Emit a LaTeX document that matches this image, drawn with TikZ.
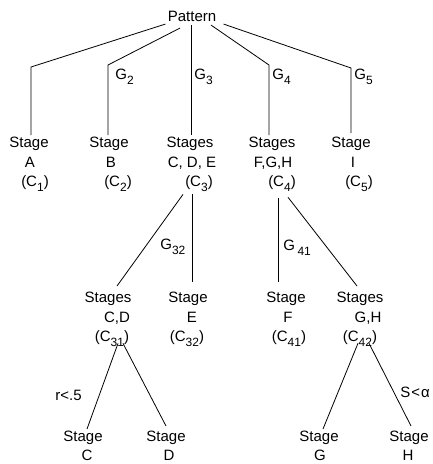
\documentclass[tikz,border=0pt]{standalone}
\usepackage{fontspec}
\setmainfont{Liberation Sans}
\usetikzlibrary{calc}
\newcommand\lo[1]{\raisebox{-5pt}{\fontsize{12}{12}\selectfont #1}}
\newcommand\sh[2]{\hbox{\kern#1\relax#2\kern-#1\relax}}
\begin{document}
\begin{tikzpicture}[x=1pt,y=-1pt,line width=0.8pt,
  lbl/.style={font=\fontsize{15}{19.5}\selectfont,align=center,inner sep=2pt,anchor=north},
  blbl/.style={lbl,font=\fontsize{15}{18.5}\selectfont},
  elbl/.style={font=\fontsize{15}{19.5}\selectfont,inner sep=0pt,anchor=base west}]
\useasboundingbox (0,0) rectangle (433,464);
% root
\node[lbl] (pat) at (192,8.8) {Pattern};
% first level
\node[lbl] (A)  at (29,135)  {Stage\\\sh{1pt}{A}\\\sh{6pt}{(C\lo{1})}};
\node[lbl] (B)  at (109,135) {Stage\\\sh{2pt}{B}\\\sh{9pt}{(C\lo{2})}};
\node[lbl] (C3) at (190,135) {Stages\\\sh{2pt}{C, D, E}\\\sh{9pt}{(C\lo{3})}};
\node[lbl] (C4) at (272,135) {Stages\\\sh{1pt}{F,G,H}\\\sh{10pt}{(C\lo{4})}};
\node[lbl] (C5) at (351,135) {Stage\\\sh{2pt}{I}\\\sh{8pt}{(C\lo{5})}};
% second level
\node[lbl] (C31) at (108,290) {Stages\\\sh{9pt}{C,D}\\\sh{4pt}{(C\lo{31})}};
\node[lbl] (C32) at (188,290) {Stage\\\sh{4pt}{E}\\\sh{-1pt}{(C\lo{32})}};
\node[lbl] (C41) at (286,290) {Stage\\\sh{2pt}{F}\\\sh{3pt}{(C\lo{41})}};
\node[lbl] (C42) at (360,290) {Stages\\\sh{8pt}{G,H}\\(C\lo{42})};
% third level
\node[blbl] (SC) at (83,429)  {Stage\\\sh{4pt}{C}};
\node[blbl] (SD) at (166,429) {Stage\\\sh{3pt}{D}};
\node[blbl] (SG) at (319,429) {Stage\\\sh{1pt}{G}};
\node[blbl] (SH) at (409,429) {Stage\\\sh{-1pt}{H}};
% elbows
\coordinate (kA) at (31,67);
\coordinate (kB) at (108,65);
\coordinate (kC4) at (269,65);
\coordinate (kC5) at (351,68);
% connectors from root
\draw (pat.south west) -- (kA) -- (kA |- A.north);
\draw ([shift={(-12,4)}]pat.south) -- (kB) -- (kB |- B.north);
\draw ([shift={(-1,1)}]pat.south) -- ([xshift=1pt]C3.north);
\draw ([shift={(19,1)}]pat.south) -- (kC4) -- (kC4 |- C4.north);
\draw ([shift={(5,0)}]pat.south east) -- (kC5) -- ([yshift=2pt]kC5 |- C5.north);
% from C3
\draw ([xshift=-7pt]C3.south) -- ([shift={(9,-4)}]C31.north);
\draw ([xshift=2pt]C3.south) -- ([shift={(4,-8)}]C32.north);
% from C4
\draw ([shift={(6,4)}]C4.south) -- ([shift={(-8,-8)}]C41.north);
\draw ([shift={(16,3)}]C4.south) -- ([shift={(-3,-4)}]C42.north);
% from C31
\draw ([shift={(10,-6)}]C31.south) -- ([shift={(4,0)}]SC.north);
\draw ([shift={(15,-6)}]C31.south) -- ([shift={(0,-3)}]SD.north);
% from C42
\draw ([shift={(-2,-6)}]C42.south) -- ([shift={(4,0)}]SG.north);
\draw ([shift={(9,-6)}]C42.south) -- ([shift={(2,-3)}]SH.north);
% edge labels
\node[elbl] (g2) at (115,79) {G\lo{2}};
\node[elbl] (g3) at (194,79) {G\lo{3}};
\node[elbl] (g4) at (272,79) {G\lo{4}};
\node[elbl] (g5) at (354,79) {G\lo{5}};
\node[elbl] (g32) at (160,249) {G\lo{32}};
\node[elbl] (g41) at (283,250) {G\,\lo{41}};
\node[elbl] (r5) at (55,400) {r<.5};
\node[elbl] (sa) at (400,397) {S\kern1pt<\kern1ptα};
\end{tikzpicture}
\end{document}
